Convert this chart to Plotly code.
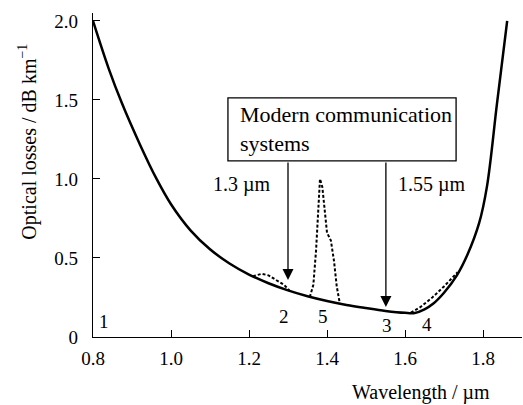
import plotly.graph_objects as go

# Solid attenuation curve (wavelength in um, loss in dB/km)
solid_wl = [0.80, 0.84, 0.874, 0.92, 0.963, 1.00, 1.05, 1.10, 1.15, 1.20, 1.25, 1.30,
            1.35, 1.40, 1.45, 1.50, 1.55, 1.60, 1.625, 1.65, 1.672, 1.70, 1.733,
            1.76, 1.79, 1.81, 1.836, 1.862]
solid_loss = [2.00, 1.70, 1.48, 1.22, 1.00, 0.84, 0.675, 0.555, 0.465, 0.395, 0.34, 0.295,
              0.258, 0.228, 0.203, 0.183, 0.165, 0.153, 0.152, 0.175, 0.21, 0.28, 0.39,
              0.52, 0.72, 0.95, 1.48, 2.00]

# Dotted absorption features
bump2_wl = [1.21, 1.233, 1.25, 1.27, 1.29, 1.305]
bump2_loss = [0.385, 0.40, 0.39, 0.36, 0.33, 0.29]
peak5_wl = [1.356, 1.365, 1.372, 1.378, 1.382, 1.388, 1.395, 1.40, 1.41, 1.418, 1.425, 1.433]
peak5_loss = [0.253, 0.33, 0.55, 0.85, 1.00, 0.95, 0.80, 0.66, 0.61, 0.48, 0.32, 0.21]
bump4_wl = [1.615, 1.64, 1.67, 1.70, 1.735]
bump4_loss = [0.155, 0.19, 0.25, 0.32, 0.41]

x_ticks = [0.8, 1.0, 1.2, 1.4, 1.6, 1.8]
x_ticktext = ["0.8", "1.0", "1.2", "1.4", "1.6", "1.8"]
y_ticks = [0, 0.5, 1.0, 1.5, 2.0]
y_ticktext = ["0", "0.5", "1.0", "1.5", "2.0"]

FONT = "Liberation Serif"

fig = go.Figure()
fig.add_trace(go.Scatter(x=solid_wl, y=solid_loss, mode="lines",
                         line=dict(color="black", width=2.5, shape="spline", smoothing=1.0), hoverinfo="skip"))
for wl, ls in [(bump2_wl, bump2_loss), (peak5_wl, peak5_loss), (bump4_wl, bump4_loss)]:
    fig.add_trace(go.Scatter(x=wl, y=ls, mode="lines", line=dict(color="black", width=2, dash="3px,2px"), hoverinfo="skip"))

annotations = []
annotations.append(dict(x=1.172, y=1.316, xref="x", yref="y", text="Modern communication<br>systems",
                        showarrow=False, xanchor="left", yanchor="middle", align="left",
                        font=dict(size=22, family=FONT, color="black")))
annotations.append(dict(x=1.30, y=0.36, ax=1.30, ay=1.114, xref="x", yref="y", axref="x", ayref="y",
                        text="", showarrow=True, arrowhead=2, arrowsize=1.7, arrowwidth=1.3, arrowcolor="black"))
annotations.append(dict(x=1.551, y=0.19, ax=1.551, ay=1.114, xref="x", yref="y", axref="x", ayref="y",
                        text="", showarrow=True, arrowhead=2, arrowsize=1.7, arrowwidth=1.3, arrowcolor="black"))
annotations.append(dict(x=1.182, y=0.962, xref="x", yref="y", text="1.3 µm", showarrow=False,
                        font=dict(size=20, family=FONT, color="black")))
annotations.append(dict(x=1.669, y=0.962, xref="x", yref="y", text="1.55 µm", showarrow=False,
                        font=dict(size=20, family=FONT, color="black")))
for t, xx, yy in [("1", 0.828, 0.095), ("2", 1.29, 0.127), ("5", 1.39, 0.127), ("3", 1.554, 0.07), ("4", 1.656, 0.076)]:
    annotations.append(dict(x=xx, y=yy, xref="x", yref="y", text=t, showarrow=False,
                            font=dict(size=19, family=FONT, color="black")))
annotations.append(dict(x=0.7646, y=-0.170, xref="paper", yref="paper", text="Wavelength / µm",
                        showarrow=False, xanchor="center", yanchor="middle",
                        font=dict(size=20, family=FONT, color="black")))
annotations.append(dict(x=-0.1515, y=0.603, xref="paper", yref="paper", text="Optical losses / dB km<sup>−1</sup>",
                        showarrow=False, textangle=-90, xanchor="center", yanchor="middle",
                        font=dict(size=20, family=FONT, color="black")))

fig.update_layout(
    width=523, height=405,
    margin=dict(l=93, r=1, t=13, b=68),
    paper_bgcolor="white", plot_bgcolor="white",
    showlegend=False,
    font=dict(family=FONT, size=19, color="black"),
    annotations=annotations,
    shapes=[dict(type="rect", xref="x", yref="y", x0=1.146, x1=1.731, y0=1.114, y1=1.513,
                 line=dict(color="black", width=1.3), fillcolor="rgba(0,0,0,0)")],
    xaxis=dict(range=[0.8, 1.9], showgrid=False, zeroline=False, showline=True, linecolor="black", linewidth=1.3,
               ticks="inside", ticklen=7, tickwidth=1.3, tickcolor="black",
               tickvals=x_ticks, ticktext=x_ticktext, ticklabelstandoff=4,
               tickfont=dict(size=19, family=FONT, color="black")),
    yaxis=dict(range=[0, 2.05], showgrid=False, zeroline=False, showline=True, linecolor="black", linewidth=1.3,
               ticks="inside", ticklen=7, tickwidth=1.3, tickcolor="black",
               tickvals=y_ticks, ticktext=y_ticktext, ticklabelstandoff=10,
               tickfont=dict(size=19, family=FONT, color="black")),
)

fig.write_html("out.html", config={"displayModeBar": False},
               post_script="document.body.style.margin='0';")
